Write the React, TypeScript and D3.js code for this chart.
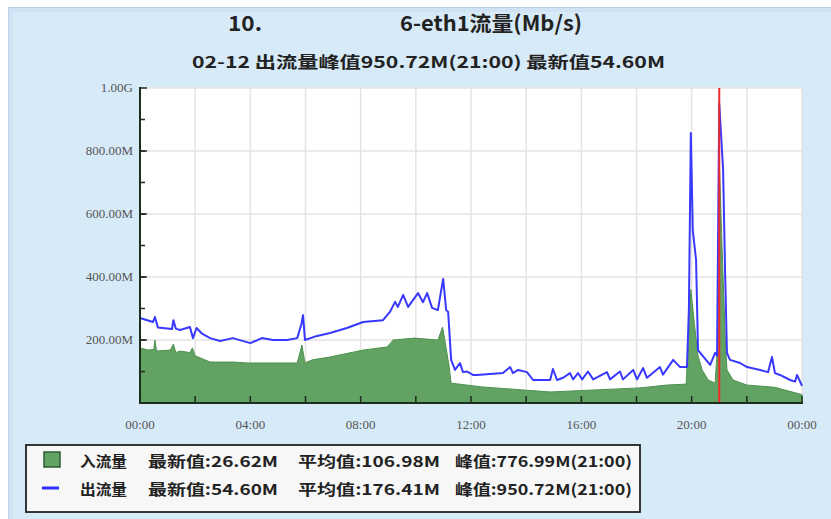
import React from "react";
import * as d3 from "d3";

// ---- data (hour of day, Mb/s) ----
const outHours = [0, 0.47, 0.54, 0.65, 1.16, 1.21, 1.3, 1.45, 1.81, 1.92, 2.05, 2.25, 2.54, 2.9, 3.37, 4.0, 4.42, 4.82, 5.33, 5.7, 5.85, 5.91, 5.98, 6.42, 6.89, 7.5, 8.09, 8.81, 9.06, 9.25, 9.35, 9.54, 9.72, 10.08, 10.26, 10.41, 10.59, 10.8, 10.99, 11.1, 11.17, 11.28, 11.42, 11.6, 11.71, 11.86, 12.07, 12.22, 13.16, 13.42, 13.52, 13.71, 14.03, 14.25, 14.87, 14.97, 15.12, 15.34, 15.59, 15.7, 15.88, 16.03, 16.24, 16.43, 16.93, 17.04, 17.4, 17.51, 17.88, 18.02, 18.24, 18.38, 18.85, 18.96, 19.33, 19.58, 19.83, 19.9, 19.97, 20.04, 20.16, 20.23, 20.38, 20.67, 20.85, 20.92, 21.0, 21.14, 21.21, 21.28, 21.39, 21.75, 22.01, 22.48, 22.77, 22.91, 23.02, 23.2, 23.57, 23.75, 23.82, 24.0];
const outValues = [270, 257, 273, 240, 235, 263, 236, 232, 241, 206, 238, 220, 206, 197, 206, 190, 206, 200, 200, 206, 250, 279, 200, 213, 222, 238, 257, 263, 289, 321, 305, 343, 305, 349, 320, 349, 302, 295, 394, 295, 290, 137, 105, 127, 98, 100, 89, 89, 95, 114, 95, 105, 98, 73, 73, 108, 73, 80, 95, 75, 95, 75, 100, 75, 98, 75, 100, 75, 105, 75, 111, 80, 114, 90, 137, 114, 114, 300, 857, 549, 454, 168, 152, 121, 159, 150, 950.72, 740, 422, 159, 137, 127, 114, 105, 98, 146, 95, 89, 73, 68, 89, 54.6];

const inHours = [0, 0.3, 0.5, 0.54, 0.6, 1.1, 1.21, 1.3, 1.45, 1.81, 1.9, 2.0, 2.54, 3.37, 3.9, 5.7, 5.8, 5.87, 5.98, 6.25, 6.89, 8.09, 8.96, 9.18, 9.95, 10.8, 10.97, 11.05, 11.2, 11.28, 12.4, 14.87, 18.13, 19.11, 19.8, 19.97, 20.1, 20.23, 20.38, 20.6, 20.85, 20.95, 21.0, 21.1, 21.22, 21.28, 21.5, 22.0, 23.0, 24.0];
const inValues = [175, 168, 170, 200, 165, 168, 187, 160, 165, 160, 175, 150, 130, 130, 127, 127, 160, 184, 127, 137, 146, 168, 178, 200, 206, 200, 241, 200, 120, 63, 51, 35, 48, 57, 60, 360, 250, 150, 105, 73, 63, 200, 776.99, 500, 200, 105, 73, 57, 50, 26.62];

const yTickValues = [200, 400, 600, 800, 1000];
const yTickLabels = ["200.00M", "400.00M", "600.00M", "800.00M", "1.00G"];
const xTickValues = [0, 4, 8, 12, 16, 20, 24];
const xTickLabels = ["00:00", "04:00", "08:00", "12:00", "16:00", "20:00", "00:00"];
const markerHour = 21;

const titleLeft = "10.";
const titleRight = "6-eth1流量(Mb/s)";
const subtitle = "02-12 出流量峰值950.72M(21:00) 最新值54.60M";
const legendIn = ["入流量", "最新值:26.62M", "平均值:106.98M", "峰值:776.99M(21:00)"];
const legendOut = ["出流量", "最新值:54.60M", "平均值:176.41M", "峰值:950.72M(21:00)"];

export default function App() {
  const W = 831, H = 519;
  const L = 140, R = 802, T = 88, B = 403;
  const x = d3.scaleLinear().domain([0, 24]).range([L, R]);
  const y = d3.scaleLinear().domain([0, 1000]).range([B, T]);

  const inData = inHours.map((h, i) => [h, inValues[i]] as [number, number]);
  const outData = outHours.map((h, i) => [h, outValues[i]] as [number, number]);

  const area = d3.area<[number, number]>().x(d => x(d[0])).y0(y(0)).y1(d => y(d[1]));
  const line = d3.line<[number, number]>().x(d => x(d[0])).y(d => y(d[1]));

  const gridX = d3.range(0, 25, 2);
  const minorY = d3.range(100, 1000, 100);

  const cjk = "'Noto Sans CJK SC', 'DejaVu Sans', sans-serif";
  const serif = "'Liberation Serif', 'DejaVu Serif', serif";
  const segX = [80, 148, 298, 455];
  const segLen = [47, 130, 142, 177];

  return (
    <svg width={W} height={H} style={{ position: "absolute", left: 0, top: 0 }}>
      <rect x={0} y={0} width={W} height={H} fill="#ffffff" />
      <rect x={8.5} y={7.5} width={W - 8} height={H - 7} fill="#cfe3f4" stroke="#b9d3e8" />
      <rect x={13} y={12} width={W - 13} height={H - 12} fill="#d7eaf8" />

      {/* title */}
      <text x={228} y={31} fontFamily={cjk} fontSize={21} fontWeight={600} fill="#222" textLength={34} lengthAdjust="spacingAndGlyphs">{titleLeft}</text>
      <text x={400} y={31} fontFamily={cjk} fontSize={21} fontWeight={600} fill="#222" textLength={182} lengthAdjust="spacingAndGlyphs">{titleRight}</text>
      <text x={192} y={68} fontFamily={cjk} fontSize={16} fontWeight={600} fill="#222" textLength={473} lengthAdjust="spacingAndGlyphs">{subtitle}</text>

      {/* plot */}
      <rect x={L} y={T} width={R - L} height={B - T} fill="#ffffff" />
      {gridX.map(h => (
        <line key={"gx" + h} x1={x(h)} x2={x(h)} y1={T} y2={B} stroke="#e6e2e2" strokeWidth={1.5} />
      ))}
      {yTickValues.map(v => (
        <line key={"gy" + v} x1={L} x2={R} y1={y(v)} y2={y(v)} stroke="#e6e2e2" strokeWidth={1.5} />
      ))}

      <path d={area(inData) || ""} fill="#62a262" stroke="#4f914f" strokeWidth={1} />
      <path d={line(outData) || ""} fill="none" stroke="#3838ff" strokeWidth={2} strokeLinejoin="round" />
      <line x1={x(markerHour)} x2={x(markerHour)} y1={T} y2={B} stroke="#f02a2a" strokeWidth={2} />

      {/* axes */}
      <line x1={L} x2={L} y1={T - 1} y2={B + 1} stroke="#1e2e1e" strokeWidth={2} />
      <line x1={L - 1} x2={R + 1} y1={B} y2={B} stroke="#1e2e1e" strokeWidth={2} />
      {minorY.map(v => (
        <line key={"my" + v} x1={L} x2={L + 5} y1={y(v)} y2={y(v)} stroke="#1e2e1e" strokeWidth={1.5} />
      ))}
      {yTickValues.map(v => (
        <line key={"ty" + v} x1={L} x2={L + 7} y1={y(v)} y2={y(v)} stroke="#1e2e1e" strokeWidth={1.5} />
      ))}
      {gridX.map(h => (
        <line key={"tx" + h} x1={x(h)} x2={x(h)} y1={B} y2={B - 7} stroke="#1e2e1e" strokeWidth={1.5} />
      ))}
      {yTickValues.map((v, i) => (
        <text key={"yl" + v} x={L - 7} y={y(v) + 4} textAnchor="end" fontFamily={serif} fontSize={13} fill="#555">{yTickLabels[i]}</text>
      ))}
      {xTickValues.map((h, i) => (
        <text key={"xl" + i} x={x(h)} y={429} textAnchor="middle" fontFamily={serif} fontSize={13} fill="#555">{xTickLabels[i]}</text>
      ))}

      {/* legend */}
      <rect x={26} y={445} width={614} height={67} fill="#f7f7f7" stroke="#222" strokeWidth={1.8} />
      <rect x={44} y={452} width={16} height={15} fill="#62a262" stroke="#2f5f2f" strokeWidth={1.5} />
      <line x1={42} x2={59} y1={488} y2={488} stroke="#3030ff" strokeWidth={3} />
      {legendIn.map((s, i) => (
        <text key={"li" + i} x={segX[i]} y={467} fontFamily={cjk} fontSize={15} fontWeight={600} fill="#222"
          textLength={segLen[i]} lengthAdjust="spacingAndGlyphs">{s}</text>
      ))}
      {legendOut.map((s, i) => (
        <text key={"lo" + i} x={segX[i]} y={495} fontFamily={cjk} fontSize={15} fontWeight={600} fill="#222"
          textLength={segLen[i]} lengthAdjust="spacingAndGlyphs">{s}</text>
      ))}
    </svg>
  );
}
